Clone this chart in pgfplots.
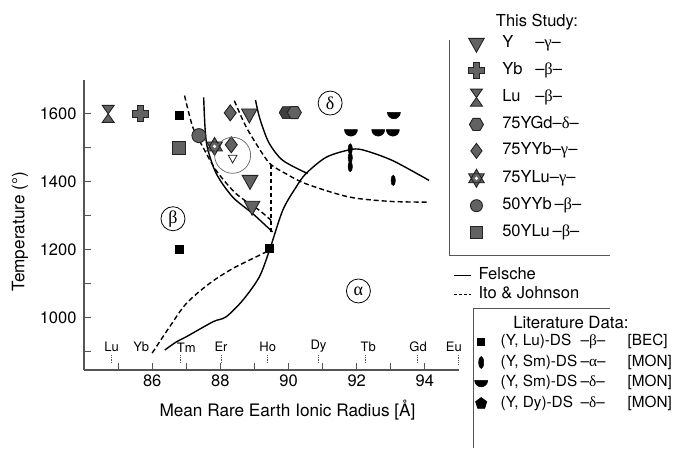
\documentclass[border=0pt]{standalone}
\usepackage{fontspec}
\setmainfont{TeX Gyre Heros}
\newfontfamily\grk{Liberation Serif}
\usepackage{pgfplots}
\pgfplotsset{compat=1.18}
\definecolor{mfill}{HTML}{626262}
\definecolor{mdraw}{HTML}{222222}
\definecolor{axgray}{HTML}{555555}
\pgfdeclareplotmark{fatcross}{%
 \pgfpathmoveto{\pgfqpoint{-0.38\pgfplotmarksize}{\pgfplotmarksize}}%
 \pgfpathlineto{\pgfqpoint{0.38\pgfplotmarksize}{\pgfplotmarksize}}%
 \pgfpathlineto{\pgfqpoint{0.38\pgfplotmarksize}{0.38\pgfplotmarksize}}%
 \pgfpathlineto{\pgfqpoint{\pgfplotmarksize}{0.38\pgfplotmarksize}}%
 \pgfpathlineto{\pgfqpoint{\pgfplotmarksize}{-0.38\pgfplotmarksize}}%
 \pgfpathlineto{\pgfqpoint{0.38\pgfplotmarksize}{-0.38\pgfplotmarksize}}%
 \pgfpathlineto{\pgfqpoint{0.38\pgfplotmarksize}{-\pgfplotmarksize}}%
 \pgfpathlineto{\pgfqpoint{-0.38\pgfplotmarksize}{-\pgfplotmarksize}}%
 \pgfpathlineto{\pgfqpoint{-0.38\pgfplotmarksize}{-0.38\pgfplotmarksize}}%
 \pgfpathlineto{\pgfqpoint{-\pgfplotmarksize}{-0.38\pgfplotmarksize}}%
 \pgfpathlineto{\pgfqpoint{-\pgfplotmarksize}{0.38\pgfplotmarksize}}%
 \pgfpathlineto{\pgfqpoint{-0.38\pgfplotmarksize}{0.38\pgfplotmarksize}}%
 \pgfpathclose\pgfusepathqfillstroke}
\pgfdeclareplotmark{hourglass}{%
 \pgfpathmoveto{\pgfqpoint{-0.7\pgfplotmarksize}{\pgfplotmarksize}}%
 \pgfpathlineto{\pgfqpoint{0.7\pgfplotmarksize}{\pgfplotmarksize}}%
 \pgfpathlineto{\pgfqpoint{-0.7\pgfplotmarksize}{-\pgfplotmarksize}}%
 \pgfpathlineto{\pgfqpoint{0.7\pgfplotmarksize}{-\pgfplotmarksize}}%
 \pgfpathclose\pgfusepathqfillstroke}
\pgfdeclareplotmark{hexa}{%
 \pgfpathmoveto{\pgfqpoint{\pgfplotmarksize}{0pt}}%
 \pgfpathlineto{\pgfqpoint{0.5\pgfplotmarksize}{0.866\pgfplotmarksize}}%
 \pgfpathlineto{\pgfqpoint{-0.5\pgfplotmarksize}{0.866\pgfplotmarksize}}%
 \pgfpathlineto{\pgfqpoint{-\pgfplotmarksize}{0pt}}%
 \pgfpathlineto{\pgfqpoint{-0.5\pgfplotmarksize}{-0.866\pgfplotmarksize}}%
 \pgfpathlineto{\pgfqpoint{0.5\pgfplotmarksize}{-0.866\pgfplotmarksize}}%
 \pgfpathclose\pgfusepathqfillstroke}
\pgfdeclareplotmark{dia}{%
 \pgfpathmoveto{\pgfqpoint{0pt}{\pgfplotmarksize}}%
 \pgfpathlineto{\pgfqpoint{0.75\pgfplotmarksize}{0pt}}%
 \pgfpathlineto{\pgfqpoint{0pt}{-\pgfplotmarksize}}%
 \pgfpathlineto{\pgfqpoint{-0.75\pgfplotmarksize}{0pt}}%
 \pgfpathclose\pgfusepathqfillstroke}
\pgfdeclareplotmark{tridown}{%
 \pgfpathmoveto{\pgfqpoint{0pt}{-\pgfplotmarksize}}%
 \pgfpathlineto{\pgfqpoint{0.866\pgfplotmarksize}{0.55\pgfplotmarksize}}%
 \pgfpathlineto{\pgfqpoint{-0.866\pgfplotmarksize}{0.55\pgfplotmarksize}}%
 \pgfpathclose\pgfusepathqfillstroke}
\pgfdeclareplotmark{hexagram}{%
 \pgfpathmoveto{\pgfqpoint{0pt}{\pgfplotmarksize}}%
 \pgfpathlineto{\pgfqpoint{-0.866\pgfplotmarksize}{-0.5\pgfplotmarksize}}%
 \pgfpathlineto{\pgfqpoint{0.866\pgfplotmarksize}{-0.5\pgfplotmarksize}}%
 \pgfpathclose
 \pgfpathmoveto{\pgfqpoint{0pt}{-\pgfplotmarksize}}%
 \pgfpathlineto{\pgfqpoint{0.866\pgfplotmarksize}{0.5\pgfplotmarksize}}%
 \pgfpathlineto{\pgfqpoint{-0.866\pgfplotmarksize}{0.5\pgfplotmarksize}}%
 \pgfpathclose\pgfusepathqfillstroke
 \pgfsetfillcolor{white}%
 \pgfpathcircle{\pgfpointorigin}{0.2\pgfplotmarksize}\pgfusepathqfill}
\pgfdeclareplotmark{bowl}{%
 \pgfpathmoveto{\pgfqpoint{-\pgfplotmarksize}{0.4\pgfplotmarksize}}%
 \pgfpatharc{180}{360}{\pgfplotmarksize}%
 \pgfpathclose\pgfusepathqfillstroke}
\pgfdeclareplotmark{vellipse}{%
 \pgfpathellipse{\pgfpointorigin}{\pgfqpoint{0.42\pgfplotmarksize}{0pt}}{\pgfqpoint{0pt}{\pgfplotmarksize}}%
 \pgfusepathqfillstroke}
\pgfplotsset{
 gm/.style={only marks, mark options={solid, fill=mfill, draw=mdraw, line width=0.9pt}},
 bm/.style={only marks, mark options={solid, fill=black, draw=black, line width=0.5pt}},
}
\newcommand{\nm}[1]{\makebox[33pt][l]{#1}}
\newcommand{\gr}[1]{–{\grk #1}–}
\begin{document}
\begin{tikzpicture}
\path[use as bounding box] (0,0) rectangle (679pt,448pt);
\begin{axis}[
 at={(84pt,78pt)}, anchor=south west,
 scale only axis, width=375pt, height=290pt,
 xmin=84, xmax=95, ymin=845, ymax=1700,
 axis lines=left, axis line style={-, axgray, line width=1.2pt},
 xtick={86,88,90,92,94}, minor xtick={85,87,89,91,93},
 ytick={1000,1200,1400,1600}, minor ytick={900,1100,1300,1500},
 tick align=inside, major tick length=7pt, minor tick length=7pt,
 every tick/.style={axgray, line width=1pt},
 ticklabel style={font=\fontsize{16.5}{18}\selectfont},
 /pgf/number format/assume math mode=true,
 /pgf/number format/set thousands separator={},
 yticklabel style={xshift=-4pt},
 xticklabel style={yshift=-1pt},
 xlabel={Mean Rare Earth Ionic Radius [Å]},
 xlabel style={font=\fontsize{17.2}{19}\selectfont, at={(axis description cs:0.5427,0)}, anchor=north, yshift=-30pt, inner sep=0pt},
 ylabel={Temperature (°)},
 ylabel style={font=\fontsize{17.2}{19}\selectfont, at={(axis description cs:-0.1707,0.476)}, anchor=center},
 clip=false,
]
% Felsche (solid)
\addplot[black, line width=1.4pt, smooth, tension=0.5] coordinates {
 (87.51,1649) (87.55,1560) (87.62,1500) (87.88,1424) (88.36,1355) (88.95,1306) (89.53,1252)};
\addplot[black, line width=1.4pt, smooth, tension=0.5] coordinates {
 (89.03,1641) (89.12,1600) (89.24,1561) (89.44,1512) (89.83,1463) (90.56,1424)};
\addplot[black, line width=1.4pt, smooth, tension=0.5] coordinates {
 (86.37,904) (86.71,928) (87.0,943) (87.78,987) (88.17,1002) (88.66,1051) (89.14,1119) (89.44,1198) (89.83,1316) (90.22,1384) (90.51,1424) (91.1,1472) (91.78,1494) (92.17,1494) (93.04,1463) (94.12,1404)};
% Ito & Johnson (dashed)
\addplot[black, line width=1.4pt, dash pattern=on 5pt off 3pt, smooth, tension=0.5] coordinates {
 (86.95,1654) (87.19,1561) (87.49,1502) (87.88,1433) (88.46,1365) (89.14,1316) (89.49,1286)};
\addplot[black, line width=1.4pt, dash pattern=on 5pt off 3pt, smooth, tension=0.5] coordinates {
 (88.41,1639) (88.76,1561) (89.24,1482) (89.49,1450) (89.9,1425) (90.51,1394) (91.78,1355) (93.0,1342) (94.12,1340)};
\addplot[black, line width=1.4pt, dash pattern=on 4pt off 3pt] coordinates {
 (89.49,1448) (89.49,1250)};
\addplot[black, line width=1.4pt, dash pattern=on 5pt off 3pt, smooth, tension=0.5] coordinates {
 (86.0,895) (86.51,972) (87.0,1041) (87.68,1100) (88.36,1144) (89.14,1183) (89.44,1198)};
% element ticks
\addplot[axgray, densely dotted, line width=0.7pt, unbounded coords=jump] coordinates {
 (84.81,866) (84.81,888) (84.81,nan)
 (86.82,866) (86.82,888) (86.82,nan)
 (88.02,866) (88.02,888) (88.02,nan)
 (89.39,866) (89.39,888) (89.39,nan)
 (90.88,866) (90.88,888) (90.88,nan)
 (92.26,866) (92.26,888) (92.26,nan)
 (93.77,866) (93.77,888) (93.77,nan)
 (94.97,862) (94.97,888)};
% literature data
\addplot[bm, mark=square*, mark size=4] coordinates {(86.8,1595) (86.8,1200) (89.44,1203)};
\addplot[bm, mark=vellipse, mark size=5.2] coordinates {(91.81,1497) (91.81,1471) (91.81,1445) (93.07,1404)};
\addplot[bm, mark=bowl, mark size=6.5] coordinates {(91.83,1546) (92.63,1546) (93.06,1546) (93.09,1597)};
% this study
\addplot[gm, mark=hourglass, mark size=8.5] coordinates {(84.71,1600)};
\addplot[gm, mark=fatcross, mark size=8] coordinates {(85.66,1600)};
\addplot[gm, mark=square*, mark size=6.7] coordinates {(86.78,1499)};
\addplot[gm, mark=*, mark size=7] coordinates {(87.37,1536)};
\addplot[gm, mark=hexagram, mark size=9] coordinates {(87.83,1504)};
\addplot[gm, mark=dia, mark size=8] coordinates {(88.29,1603) (88.32,1509)};
\addplot[gm, mark=tridown, mark size=9] coordinates {(88.85,1600) (88.87,1404) (88.93,1328)};
\addplot[only marks, mark=hexa, mark size=7, mark options={fill=black!75, draw=black}] coordinates {(89.93,1604)};
\addplot[gm, mark=hexa, mark size=7] coordinates {(90.17,1604)};
% highlighted point
\addplot[only marks, mark=tridown, mark size=5, mark options={fill=white, draw=mdraw, line width=0.8pt}] coordinates {(88.36,1470)};
\addplot[only marks, mark=o, mark size=18, mark options={draw=black!60, line width=0.7pt}] coordinates {(88.36,1478)};
% phase labels
\node[draw, circle, line width=0.8pt, inner sep=1.5pt, minimum size=24pt, font=\fontsize{18}{18}\selectfont\grk] at (axis cs:86.61,1291) {β};
\node[draw, circle, line width=0.8pt, inner sep=1.5pt, minimum size=24pt, font=\fontsize{18}{18}\selectfont\grk] at (axis cs:91.22,1632) {δ};
\node[draw, circle, line width=0.8pt, inner sep=1.5pt, minimum size=24pt, font=\fontsize{18}{18}\selectfont\grk] at (axis cs:92.05,1078) {α};
% element labels
\begin{scope}[every node/.style={font=\fontsize{13}{14}\selectfont, inner sep=0pt}]
\node at (axis cs:84.81,914) {Lu};
\node at (axis cs:85.68,914) {Yb};
\node at (axis cs:87.0,912) {Tm};
\node at (axis cs:88.02,914) {Er};
\node at (axis cs:89.39,914) {Ho};
\node at (axis cs:90.88,914) {Dy};
\node at (axis cs:92.34,914) {Tb};
\node at (axis cs:93.80,914) {Gd};
\node at (axis cs:94.85,914) {Eu};
\end{scope}
\end{axis}
% legend: this study
\begin{axis}[at={(0pt,0pt)}, anchor=south west, scale only axis, width=679pt, height=448pt,
 xmin=0, xmax=679, ymin=0, ymax=448, hide axis, legend cell align=left,
 legend style={draw=none, fill=none, at={(0.6896,0.9217)}, anchor=north west,
  font=\fontsize{16.5}{18}\selectfont, inner sep=0pt, row sep=10.4pt, column sep=17.8pt,
  nodes={inner sep=0pt, text height=12pt, text depth=4pt}}]
\addlegendimage{gm, mark=tridown, mark size=9}
\addlegendentry{\nm{Y}\gr{γ}}
\addlegendimage{gm, mark=fatcross, mark size=8}
\addlegendentry{\nm{Yb}\gr{β}}
\addlegendimage{gm, mark=hourglass, mark size=8.5}
\addlegendentry{\nm{Lu}\gr{β}}
\addlegendimage{gm, mark=hexa, mark size=7}
\addlegendentry{75YGd\gr{δ}}
\addlegendimage{gm, mark=dia, mark size=7.5}
\addlegendentry{75YYb\gr{γ}}
\addlegendimage{gm, mark=hexagram, mark size=9}
\addlegendentry{75YLu\gr{γ}}
\addlegendimage{gm, mark=*, mark size=6}
\addlegendentry{50YYb\,\gr{β}}
\addlegendimage{gm, mark=square*, mark size=6}
\addlegendentry{50YLu\,\gr{β}}
\end{axis}
% legend: lines
\begin{axis}[at={(0pt,0pt)}, anchor=south west, scale only axis, width=679pt, height=448pt,
 xmin=0, xmax=679, ymin=0, ymax=448, hide axis, legend cell align=left,
 legend style={draw=none, fill=none, at={(0.6672,0.4025)}, anchor=north west,
  font=\fontsize{16.5}{18}\selectfont, inner sep=0pt, row sep=2.3pt, column sep=7pt,
  nodes={inner sep=0pt, text height=12pt, text depth=4pt}}]
\addlegendimage{black, line width=1.2pt}
\addlegendentry{Felsche}
\addlegendimage{black, line width=1.2pt, dash pattern=on 3pt off 2pt}
\addlegendentry{Ito \& Johnson}
\end{axis}
% legend: literature
\begin{axis}[at={(0pt,0pt)}, anchor=south west, scale only axis, width=679pt, height=448pt,
 xmin=0, xmax=679, ymin=0, ymax=448, hide axis, legend cell align=left,
 legend style={draw=none, fill=none, at={(0.6988,0.2533)}, anchor=north west,
  font=\fontsize{15.3}{16}\selectfont, inner sep=0pt, row sep=6pt, column sep=13pt,
  nodes={inner sep=0pt, text height=11pt, text depth=3.5pt}}]
\addlegendimage{bm, mark=square*, mark size=3.5}
\addlegendentry{\makebox[80pt][l]{(Y, Lu)-DS}\makebox[47pt][l]{\gr{β}}[BEC]}
\addlegendimage{bm, mark=vellipse, mark size=6}
\addlegendentry{\makebox[80pt][l]{(Y, Sm)-DS}\makebox[47pt][l]{\gr{α}}[MON]}
\addlegendimage{bm, mark=bowl, mark size=6.5}
\addlegendentry{\makebox[80pt][l]{(Y, Sm)-DS}\makebox[47pt][l]{\gr{δ}}[MON]}
\addlegendimage{bm, mark=pentagon*, mark size=6}
\addlegendentry{\makebox[80pt][l]{(Y, Dy)-DS}\makebox[47pt][l]{\gr{δ}}[MON]}
\end{axis}
% legend frames and titles
\draw[axgray, line width=0.9pt] (449pt,408pt) -- (449pt,193pt) -- (610pt,193pt);
\draw[axgray, line width=0.9pt] (473pt,0pt) -- (473pt,140pt) -- (610pt,140pt);
\node[font=\fontsize{16.5}{18}\selectfont] at (537pt,426.3pt) {This Study:};
\node[font=\fontsize{16.8}{18}\selectfont] at (571pt,126pt) {Literature Data:};
\end{tikzpicture}
\end{document}
